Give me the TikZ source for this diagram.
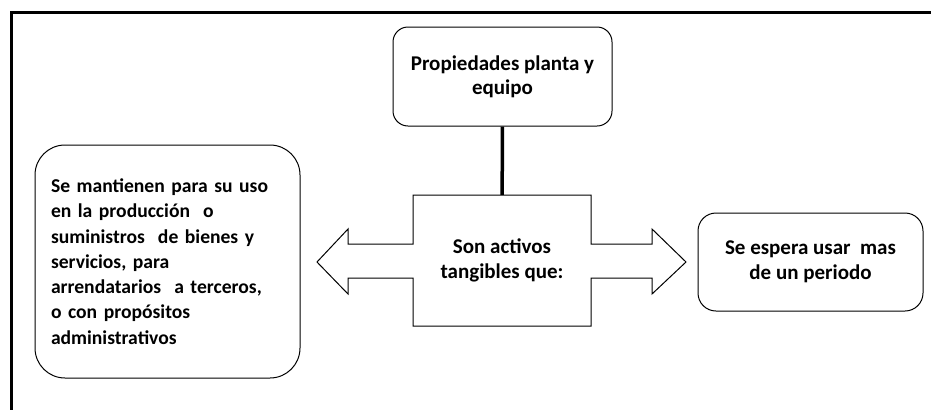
\documentclass[tikz,border=0pt]{standalone}
\usepackage{fontspec}
\setmainfont{Carlito}
\usepackage{tikz}
\usetikzlibrary{calc}

\begin{document}
\begin{tikzpicture}[x=1pt,y=-1pt]
  \tikzstyle{box}=[draw,line width=1pt,font=\bfseries\fontsize{21}{24}\selectfont,align=center,inner sep=0pt]
  \tikzstyle{frame}=[line width=3pt]
  \useasboundingbox (0,0) rectangle (931,410);
  \draw[frame] (931,12) -- (11,12) -- (11,410);

  \node[box,rounded corners=15pt,minimum width=219pt,minimum height=99pt] (prop) at (502.5,76.5) {Propiedades planta y\\equipo};

  \node[font=\bfseries\fontsize{21}{25}\selectfont,align=center,inner sep=0pt,minimum width=178pt,minimum height=131pt] (activos) at (502,260.5) {Son activos\\tangibles que:};
  \draw[line width=1pt,line join=miter]
    (413,195) -- (591,195) -- (591,244) -- (652,244) -- (652,229) -- (686,262)
    -- (652,294) -- (652,278) -- (591,278) -- (591,326) -- (413,326) -- (413,278)
    -- (348,278) -- (348,294) -- (317,262) -- (348,229) -- (348,244) -- (413,244) -- cycle;
  \draw[line width=3.5pt] (prop) -- (activos);

  \node[box,rounded corners=30pt,minimum width=265pt,minimum height=233pt,text width=233pt,align=left,font=\bfseries\fontsize{19.6}{25.3}\selectfont] (uso) at (167.5,261.5) {Se mantienen para su uso\\en la producción\ \ o\\suministros\ \ de bienes y\\servicios, para\\arrendatarios\ \ a terceros,\\o con propósitos\\administrativos};

  \node[box,rounded corners=18pt,minimum width=225pt,minimum height=98pt,font=\bfseries\fontsize{21}{25}\selectfont] (periodo) at (810.5,262) {Se espera usar\ \ mas\\de un periodo};
\end{tikzpicture}
\end{document}
